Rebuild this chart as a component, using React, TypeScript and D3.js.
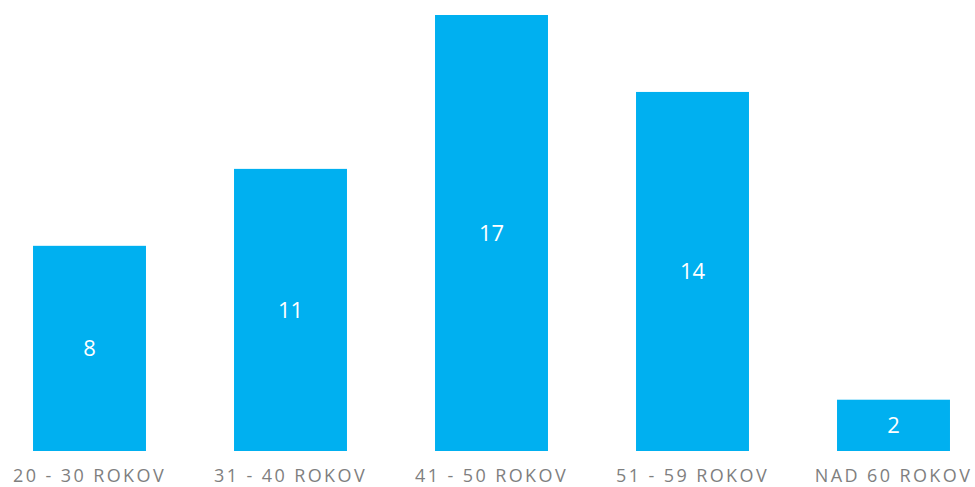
import React from "react";
import * as d3 from "d3";

const categories = ["20 - 30 ROKOV", "31 - 40 ROKOV", "41 - 50 ROKOV", "51 - 59 ROKOV", "NAD 60 ROKOV"];
const values = [8, 11, 17, 14, 2];

const W = 975;
const H = 487;

export default function App() {
  const x = d3
    .scaleBand<string>()
    .domain(categories)
    .range([-11, 994])
    .paddingInner(0.438)
    .paddingOuter(0.219);
  const y = d3.scaleLinear().domain([0, 17]).range([451, 15]);

  return (
    <svg
      width={W}
      height={H}
      style={{ position: "absolute", left: 0, top: 0, background: "#fff" }}
      fontFamily="'Open Sans', sans-serif"
    >
      {categories.map((c, i) => {
        const x0 = x(c)!;
        const bw = x.bandwidth();
        const yt = y(values[i]);
        const yb = y(0);
        return (
          <g key={c}>
            <rect x={x0} y={yt} width={bw} height={yb - yt} fill="#00B0F0" />
            <text
              x={x0 + bw / 2}
              y={(yt + yb) / 2}
              dy="0.36em"
              textAnchor="middle"
              fill="#fff"
              fontSize={22}
            >
              {values[i]}
            </text>
            <text
              x={x0 + bw / 2}
              y={482}
              textAnchor="middle"
              fill="#7f7f7f"
              fontSize={18}
              letterSpacing={2.4}
            >
              {c}
            </text>
          </g>
        );
      })}
    </svg>
  );
}
